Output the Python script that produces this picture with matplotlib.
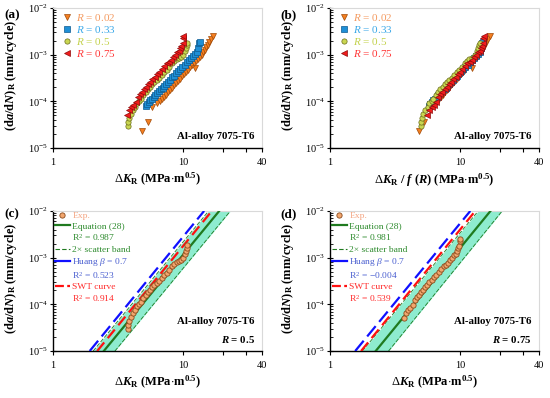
import numpy as np
import matplotlib
matplotlib.use("Agg")
import matplotlib.pyplot as plt
from matplotlib.lines import Line2D
from matplotlib.ticker import NullFormatter, LogLocator

plt.rcParams["font.family"] = "Liberation Serif"
plt.rcParams["mathtext.fontset"] = "custom"
plt.rcParams["mathtext.rm"] = "Liberation Serif"
plt.rcParams["mathtext.it"] = "Liberation Serif:italic"
plt.rcParams["mathtext.bf"] = "Liberation Serif:bold"
plt.rcParams["mathtext.bfit"] = "Liberation Serif:italic:bold"

## Data: dK_R (MPa m^0.5) and da/dN (mm/cycle)
r_values = [0.02, 0.33, 0.5, 0.75]
f_r = [1.0, 0.90, 0.76, 0.66]  # f(R) used for the normalised panel

dk_002 = [4.78, 5.30, 5.71, 6.24, 6.60, 6.85, 7.10, 7.35, 7.60, 7.90, 8.20, 8.50,
          8.80, 9.10, 9.45, 9.80, 10.15, 10.5, 10.9, 11.3, 11.7, 12.2, 12.1, 12.5,
          12.9, 13.4, 13.8, 14.2, 14.6, 15.0, 15.4, 15.8, 16.3, 16.7]
rate_002 = [2.3e-5, 3.6e-5, 7.4e-5, 9.2e-5, 1.0e-4, 1.12e-4, 1.26e-4, 1.40e-4,
            1.55e-4, 1.75e-4, 1.97e-4, 2.20e-4, 2.45e-4, 2.72e-4, 3.06e-4, 3.43e-4,
            3.83e-4, 4.26e-4, 4.79e-4, 5.36e-4, 5.98e-4, 5.2e-4, 6.63e-4, 7.34e-4,
            8.1e-4, 9.1e-4, 1.0e-3, 1.12e-3, 1.27e-3, 1.45e-3, 1.65e-3, 1.88e-3,
            2.2e-3, 2.55e-3]

dk_033 = [5.13, 5.25, 5.40, 5.55, 5.72, 5.90, 6.08, 6.28, 6.48, 6.70, 6.92, 7.15,
          7.40, 7.65, 7.92, 8.20, 8.50, 8.80, 9.12, 9.45, 9.80, 10.2, 10.6, 11.0,
          11.4, 11.8, 12.2, 12.6, 12.9, 13.2, 13.4]
rate_033 = [8.1e-5, 8.8e-5, 9.6e-5, 1.05e-4, 1.13e-4, 1.25e-4, 1.36e-4, 1.50e-4,
            1.63e-4, 1.80e-4, 1.97e-4, 2.15e-4, 2.40e-4, 2.65e-4, 2.92e-4, 3.25e-4,
            3.55e-4, 4.0e-4, 4.4e-4, 4.85e-4, 5.45e-4, 6.1e-4, 6.8e-4, 7.6e-4,
            8.4e-4, 9.3e-4, 1.03e-3, 1.15e-3, 1.40e-3, 1.75e-3, 1.84e-3]

dk_05 = [3.78, 3.78, 3.84, 3.94, 4.08, 4.25, 4.38, 4.56, 4.70, 4.93, 5.13, 5.32,
         5.54, 5.77, 5.98, 6.24, 6.50, 6.81, 7.10, 7.44, 7.80, 8.23, 8.53, 8.89,
         9.31, 9.60, 9.88, 10.2, 10.4, 10.6, 10.7]
rate_05 = [2.97e-5, 3.62e-5, 4.42e-5, 5.48e-5, 6.46e-5, 7.62e-5, 9.0e-5, 1.01e-4,
           1.15e-4, 1.36e-4, 1.55e-4, 1.80e-4, 2.06e-4, 2.31e-4, 2.55e-4, 2.86e-4,
           3.21e-4, 3.67e-4, 4.19e-4, 4.7e-4, 5.55e-4, 6.54e-4, 7.34e-4, 8.1e-4,
           8.67e-4, 9.1e-4, 9.9e-4, 1.17e-3, 1.38e-3, 1.62e-3, 1.82e-3]

dk_075 = [3.66, 3.82, 3.96, 4.12, 4.30, 4.45, 4.64, 4.78, 4.98, 5.16, 5.38, 5.54,
          5.77, 6.05, 6.31, 6.54, 6.81, 7.10, 7.44, 7.76, 8.04, 8.38, 8.63, 8.99,
          9.26, 9.42, 9.60, 9.83, 9.90, 10.0]
rate_075 = [5.04e-5, 6.46e-5, 7.4e-5, 8.3e-5, 9.8e-5, 1.26e-4, 1.41e-4, 1.6e-4,
            1.83e-4, 2.06e-4, 2.31e-4, 2.64e-4, 3.0e-4, 3.37e-4, 3.85e-4, 4.32e-4,
            4.93e-4, 5.73e-4, 6.54e-4, 7.1e-4, 7.7e-4, 8.7e-4, 9.9e-4, 1.13e-3,
            1.2e-3, 1.38e-3, 1.57e-3, 1.76e-3, 2.26e-3, 2.45e-3]

# model lines: dK at da/dN = 1e-5 and 1e-2 (straight in log-log)
line_rate = [1e-5, 1e-2]
eq28_c = [2.45, 18.8]
band_left_c = [2.03, 15.6]
band_right_c = [2.98, 22.9]
huang_c = [1.91, 14.4]
swt_c = [2.18, 16.5]

eq28_d = [2.24, 17.0]
band_left_d = [1.77, 13.7]
band_right_d = [2.81, 20.9]
huang_d = [1.56, 11.9]
swt_d = [1.73, 13.0]

r2_c = ["0.987", "0.523", "0.914"]
r2_d = ["0.981", "\u22120.004", "0.539"]

series_dk = [dk_002, dk_033, dk_05, dk_075]
series_rate = [rate_002, rate_033, rate_05, rate_075]
markers = ["v", "s", "o", "<"]
face_cols = ["#f47f20", "#1f8fd6", "#c9d651", "#f01c1c"]
edge_cols = ["#a04a08", "#0c5a90", "#6b6d1c", "#8e0a0a"]
text_cols = ["#f49a60", "#3aa8e8", "#c3d24c", "#ff3535"]

green = "#1f7a1f"
band_col = "#8eeccf"
exp_face = "#f2a66e"
exp_edge = "#8a4a1c"

ylab = r"(d$\mathbfit{a}$/d$\mathbfit{N}$)$_\mathbf{R}$ (mm/cycle)"
xlab = r"$\Delta\mathbfit{K}_\mathbf{R}$ (MPa$\cdot$m$^\mathbf{0.5}$)"
xlab_b = r"$\Delta\mathbfit{K}_\mathbf{R}$ / $\mathbfit{f}$ ($\mathbfit{R}$) (MPa$\cdot$m$^\mathbf{0.5}$)"


def style_axes(ax, xlabel):
    ax.set_xscale("log")
    ax.set_yscale("log")
    ax.set_xlim(1, 40)
    ax.set_ylim(1e-5, 1e-2)
    ax.set_xticks([1, 10, 40])
    ax.set_xticklabels(["1", "10", "40"])
    ax.set_xticks([20, 30], minor=True)
    ax.xaxis.set_minor_formatter(NullFormatter())
    ax.set_yticks([1e-5, 1e-4, 1e-3, 1e-2])
    ax.yaxis.set_minor_locator(LogLocator(subs=np.arange(2, 10)))
    ax.yaxis.set_minor_formatter(NullFormatter())
    for s in ["top", "right"]:
        ax.spines[s].set_color("#d9d9d9")
        ax.spines[s].set_linewidth(0.8)
    for s in ["left", "bottom"]:
        ax.spines[s].set_linewidth(1.0)
    ax.tick_params(axis="both", which="major", labelsize=7.5, width=0.8)
    ax.tick_params(axis="y", which="major", direction="inout", length=5, pad=1)
    ax.tick_params(axis="y", which="minor", direction="in", length=2, width=0.6)
    ax.tick_params(axis="x", which="major", direction="out", length=3, pad=4)
    ax.tick_params(axis="x", which="minor", direction="out", length=3, width=0.8)
    ax.set_ylabel(ylab, fontsize=9, fontweight="bold")
    ax.set_xlabel(xlabel, fontsize=9, fontweight="bold", labelpad=3)
    ax.yaxis.set_label_coords(-0.165, 0.52)


fig = plt.figure(figsize=(5.5, 3.98), dpi=100)
ax_a = fig.add_axes([0.0964, 0.628, 0.38, 0.352])
ax_b = fig.add_axes([0.600, 0.628, 0.38, 0.352])
ax_c = fig.add_axes([0.0964, 0.118, 0.38, 0.352])
ax_d = fig.add_axes([0.600, 0.118, 0.38, 0.352])

# (a) raw data and (b) normalised data
for ax, norm in [(ax_a, False), (ax_b, True)]:
    for i in range(4):
        xs = np.array(series_dk[i])
        if norm:
            xs = xs / f_r[i]
        ax.plot(xs, series_rate[i], linestyle="none", marker=markers[i], ms=3.8,
                mfc=face_cols[i], mec=edge_cols[i], mew=0.5,
                label=r"$\mathit{R}$ = " + str(r_values[i]))
    leg = ax.legend(loc="upper left", bbox_to_anchor=(0.0, 1.035), frameon=False,
                    fontsize=8, numpoints=1, handlelength=1.0, handletextpad=0.3,
                    labelspacing=0.1, borderpad=0.3, labelcolor=text_cols)
    ax.text(0.965, 0.08, "Al-alloy 7075-T6", transform=ax.transAxes, ha="right",
            va="center", fontsize=7.8, fontweight="bold")

style_axes(ax_a, xlab)
style_axes(ax_b, xlab_b)

# (c) R = 0.5 and (d) R = 0.75 with model lines
panels = [(ax_c, dk_05, rate_05, eq28_c, band_left_c, band_right_c, huang_c, swt_c, r2_c, "0.5"),
          (ax_d, dk_075, rate_075, eq28_d, band_left_d, band_right_d, huang_d, swt_d, r2_d, "0.75")]
for ax, dk, rate, eq, bl, br, hu, sw, r2, rlab in panels:
    ax.fill_betweenx(line_rate, bl, br, color=band_col, lw=0, zorder=1)
    ax.plot(bl, line_rate, color=green, lw=0.6, ls=(0, (5, 2)), zorder=2)
    ax.plot(br, line_rate, color=green, lw=0.6, ls=(0, (5, 2)), zorder=2)
    ax.plot(eq, line_rate, color=green, lw=1.6, zorder=3)
    ax.plot(hu, line_rate, color="#1010ff", lw=1.6, ls=(0, (6, 2.5)), zorder=3)
    ax.plot(sw, line_rate, color="#ff1010", lw=1.6, ls=(0, (5, 2.5)), zorder=3)
    ax.plot(dk, rate, linestyle="none", marker="o", ms=3.8, mfc=exp_face,
            mec=exp_edge, mew=0.6, zorder=4)

    blank = Line2D([], [], linestyle="none")
    handles = [Line2D([], [], linestyle="none", marker="o", ms=3.8, mfc=exp_face,
                      mec=exp_edge, mew=0.6),
               Line2D([], [], color=green, lw=1.6), blank,
               Line2D([], [], color=green, lw=0.8, ls=(0, (4, 2))),
               Line2D([], [], color="#1010ff", lw=1.6), blank,
               Line2D([], [], color="#ff1010", lw=1.6, ls=(0, (4, 1.5))), blank]
    labels = ["Exp.", "Equation (28)", "R$^2$ = " + r2[0], "2\u00d7 scatter band",
              r"Huang $\mathit{\beta}$ = 0.7", "R$^2$ = " + r2[1], "SWT curve",
              "R$^2$ = " + r2[2]]
    lcols = ["#f4a582", "#2e8b2e", "#2e8b2e", "#2e8b2e", "#4a5fd0", "#4a5fd0",
             "#ff2a2a", "#ff2a2a"]
    ax.legend(handles, labels, loc="upper left", bbox_to_anchor=(0.0, 1.01),
              frameon=False, fontsize=6.8, handlelength=1.6, handletextpad=0.25,
              labelspacing=0.2, borderpad=0.2, borderaxespad=0.0,
              labelcolor=lcols)
    ax.text(0.965, 0.21, "Al-alloy 7075-T6", transform=ax.transAxes, ha="right",
            va="center", fontsize=7.8, fontweight="bold")
    ax.text(0.965, 0.085, r"$\mathbfit{R}$ = " + rlab, transform=ax.transAxes,
            ha="right", va="center", fontsize=7.8, fontweight="bold")
    style_axes(ax, xlab)

for lab, x, y in [("(a)", 0.008, 0.962), ("(b)", 0.51, 0.962),
                  ("(c)", 0.008, 0.462), ("(d)", 0.51, 0.462)]:
    fig.text(x, y, lab, fontsize=9.5, fontweight="bold", va="center")

fig.savefig("out.png", dpi=100)
